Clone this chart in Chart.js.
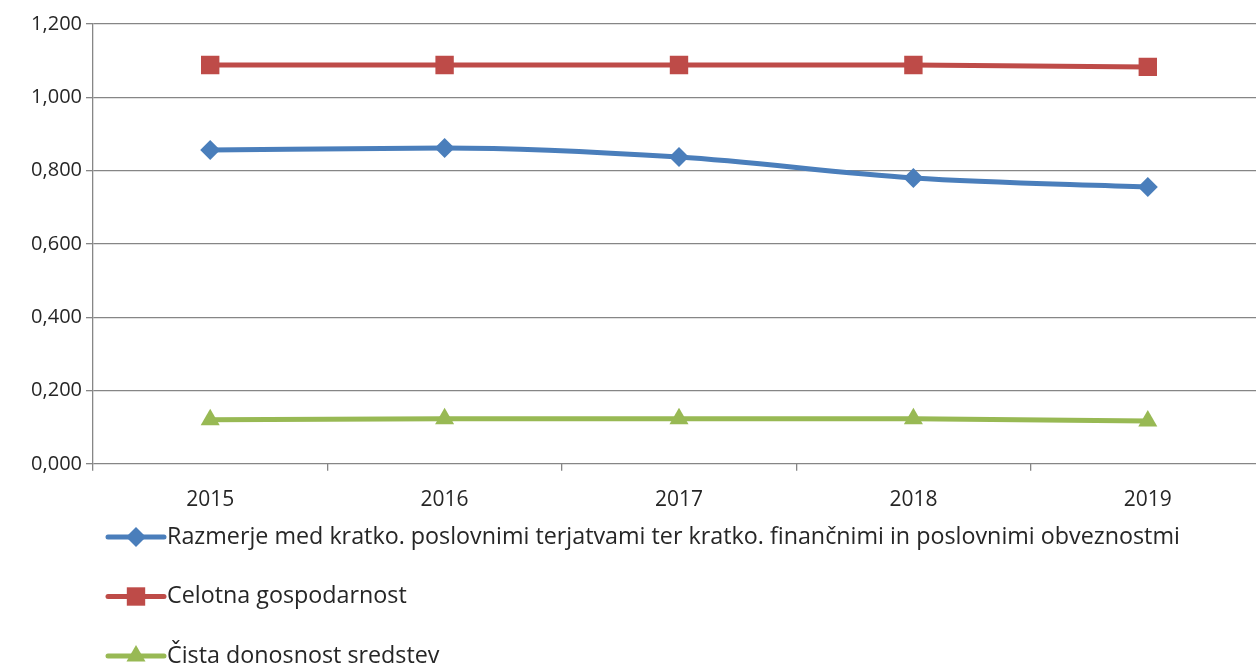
<!DOCTYPE html>
<html><head><meta charset="utf-8">
<script src="https://cdn.jsdelivr.net/npm/chart.js@4/dist/chart.umd.min.js"></script>
<style>html,body{margin:0;padding:0;background:#fff;overflow:hidden}#wrap{width:1300px;height:664px;position:relative;overflow:hidden}canvas{display:block}</style>
</head><body><div id="wrap"><canvas id="c" width="1278" height="664" style="width:1278px;height:664px"></canvas></div>
<script>
const categories = ['2015', '2016', '2017', '2018', '2019'];
const razmerje = [0.856, 0.862, 0.837, 0.780, 0.755];
const celotna = [1.088, 1.088, 1.088, 1.088, 1.083];
const cista = [0.120, 0.123, 0.123, 0.123, 0.117];
const yTicks = [0, 0.2, 0.4, 0.6, 0.8, 1.0, 1.2];
const seriesNames = [
  'Razmerje med kratko. poslovnimi terjatvami ter kratko. finančnimi in poslovnimi obveznostmi',
  'Celotna gospodarnost',
  'Čista donosnost sredstev'
];

const FONT = "'Open Sans', 'Liberation Sans', sans-serif";
const TEXT = '#262626';
const GRID = '#868686';

const stackLegend = {
  id: 'stackLegend',
  afterDraw(chart) {
    const ctx = chart.ctx;
    ctx.save();
    chart.data.datasets.forEach((ds, i) => {
      const y = 537 + i * 59.5;
      ctx.strokeStyle = ds.borderColor;
      ctx.lineWidth = 5;
      ctx.lineCap = 'round';
      ctx.beginPath();
      ctx.moveTo(108, y);
      ctx.lineTo(164, y);
      ctx.stroke();
      ctx.fillStyle = ds.backgroundColor;
      ctx.strokeStyle = ds.backgroundColor;
      Chart.helpers.drawPoint(ctx, {pointStyle: ds.pointStyle, radius: ds.pointRadius, rotation: 0, borderWidth: 0}, 136, y);
      ctx.fillStyle = TEXT;
      ctx.font = '23.3px ' + FONT;
      ctx.textBaseline = 'middle';
      ctx.textAlign = 'left';
      ctx.fillText(ds.label, 167, y);
    });
    ctx.restore();
  }
};

new Chart(document.getElementById('c'), {
  type: 'line',
  data: {
    labels: categories,
    datasets: [
      {label: seriesNames[0], data: razmerje, borderColor: '#4A7EBB', backgroundColor: '#4A7EBB', borderWidth: 5, pointStyle: 'rectRot', pointRadius: 10, pointBorderWidth: 0, tension: 0.15, cubicInterpolationMode: 'monotone'},
      {label: seriesNames[1], data: celotna, borderColor: '#BE4B48', backgroundColor: '#BE4B48', borderWidth: 5, pointStyle: 'rect', pointRadius: 13, pointBorderWidth: 0},
      {label: seriesNames[2], data: cista, borderColor: '#98B954', backgroundColor: '#98B954', borderWidth: 5, pointStyle: 'triangle', pointRadius: 11, pointBorderWidth: 0}
    ]
  },
  options: {
    responsive: false,
    animation: false,
    layout: {padding: {top: 24, right: 0, bottom: 134, left: 0}},
    plugins: {legend: {display: false}, tooltip: {enabled: false}},
    scales: {
      x: {
        offset: true,
        grid: {offset: true, drawOnChartArea: false, drawTicks: true, tickLength: 7, color: GRID, lineWidth: 1.3},
        border: {display: false},
        ticks: {color: TEXT, font: {family: FONT, size: 21}, padding: 17, maxRotation: 0}
      },
      y: {
        min: 0, max: 1.2,
        afterBuildTicks(scale) { scale.ticks = yTicks.map(v => ({value: v})); },
        afterFit(scale) { scale.width = 93; },
        grid: {color: GRID, lineWidth: 1.3, tickLength: 7, drawTicks: true},
        border: {color: GRID, width: 1.3},
        ticks: {color: TEXT, font: {family: FONT, size: 20}, padding: 4,
          callback: v => Number(v).toFixed(3).replace('.', ',')}
      }
    }
  },
  plugins: [stackLegend]
});
</script>
</body></html>
